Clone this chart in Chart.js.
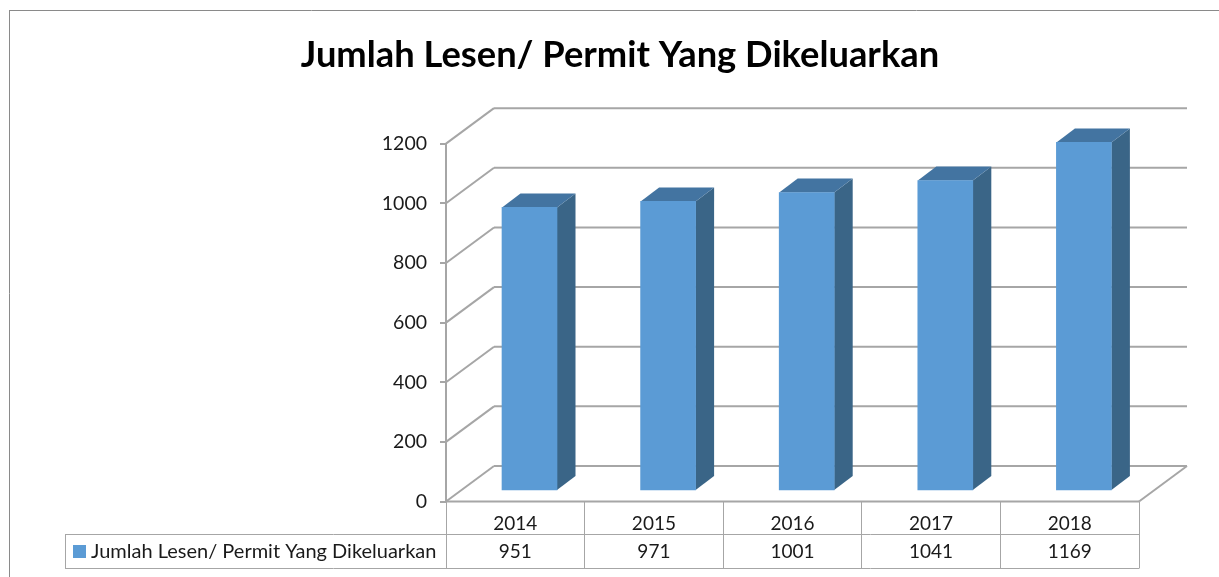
<!DOCTYPE html>
<html><head><meta charset="utf-8">
<style>html,body{margin:0;padding:0;background:#fff;overflow:hidden}canvas{display:block}</style>
<script src="https://cdn.jsdelivr.net/npm/chart.js@4"></script>
</head><body>
<canvas id="c" width="1219" height="577"></canvas>
<script>
const chartTitle = 'Jumlah Lesen/ Permit Yang Dikeluarkan';
const seriesName = 'Jumlah Lesen/ Permit Yang Dikeluarkan';
const categories = ['2014','2015','2016','2017','2018'];
const permitValues = [951,971,1001,1041,1169];

const FONT = 'Lato, "Open Sans", sans-serif';
const GRID = '#a6a6a6', TABLE = '#a6a6a6', TEXT = '#1a1a1a';
const WALL = {dx:48, dy:-35.5};
const BAR_SHIFT = {dx:14.2, dy:-10.5};
const BAR_DEPTH = {dx:18.5, dy:-14};
const TABLE_LEFT = 65, ROW1 = 534.5, ROW2 = 568.5;

function line(ctx,x1,y1,x2,y2,color,w){
  ctx.beginPath();ctx.moveTo(x1,y1);ctx.lineTo(x2,y2);
  ctx.strokeStyle=color;ctx.lineWidth=w;ctx.stroke();
}
function poly(ctx,pts,color){
  ctx.beginPath();pts.forEach((p,i)=>i?ctx.lineTo(p[0],p[1]):ctx.moveTo(p[0],p[1]));
  ctx.closePath();ctx.fillStyle=color;ctx.fill();
}
const frame3d = {
  id:'frame3d',
  beforeDatasetsDraw(chart){
    const {ctx,chartArea:a,scales:{y}} = chart;
    ctx.save();
    // outer frame
    line(ctx,9.5,10,9.5,577,'#8a8a8a',1);
    line(ctx,9,10.5,1219,10.5,'#8a8a8a',1);
    // back wall grid and the side-wall diagonals
    y.ticks.forEach(t=>{
      const py=y.getPixelForValue(t.value);
      line(ctx,a.left+WALL.dx,py+WALL.dy,a.right+WALL.dx,py+WALL.dy,GRID,2);
      line(ctx,a.left,py,a.left+WALL.dx,py+WALL.dy,GRID,2);
    });
    const p0=y.getPixelForValue(0);
    line(ctx,a.right,p0,a.right+WALL.dx,p0+WALL.dy,GRID,2);
    ctx.restore();
  },
  beforeDatasetDraw(chart){
    const ctx=chart.ctx;
    ctx.save();
    chart.getDatasetMeta(0).data.forEach(b=>{
      const p=b.getProps(['x','y','base','width'],true);
      const r=p.x+p.width/2+BAR_SHIFT.dx, l=p.x-p.width/2+BAR_SHIFT.dx;
      const t=p.y+BAR_SHIFT.dy, m=p.base+BAR_SHIFT.dy;
      const dx=BAR_DEPTH.dx, dy=BAR_DEPTH.dy;
      poly(ctx,[[r,t],[r+dx,t+dy],[r+dx,m+dy],[r,m]],'#3a6587');
      poly(ctx,[[l,t],[l+dx,t+dy],[r+dx,t+dy],[r,t]],'#4374a1');
    });
    ctx.restore();
    ctx.save();
    ctx.translate(BAR_SHIFT.dx,BAR_SHIFT.dy);
  },
  afterDatasetDraw(chart){ chart.ctx.restore(); },
  afterDraw(chart){
    const {ctx,chartArea:a,scales:{x}} = chart;
    ctx.save();
    const p0=a.bottom, step=(a.right-a.left)/categories.length;
    line(ctx,a.left,p0,a.right,p0,GRID,2);
    for(let i=0;i<=categories.length;i++){
      const lx=Math.floor(a.left+i*step)+0.5;
      line(ctx,lx,p0,lx,ROW2,TABLE,1);
    }
    line(ctx,TABLE_LEFT,ROW1,a.right,ROW1,TABLE,1);
    line(ctx,TABLE_LEFT,ROW2,a.right,ROW2,TABLE,1);
    line(ctx,TABLE_LEFT+0.5,ROW1,TABLE_LEFT+0.5,ROW2,TABLE,1);
    ctx.fillStyle=TEXT;ctx.font='19px '+FONT;ctx.textBaseline='middle';ctx.textAlign='center';
    permitValues.forEach((v,i)=>ctx.fillText(String(v),x.getPixelForValue(i),551.5));
    ctx.fillStyle='#5b9bd5';ctx.fillRect(73,545,13,13);
    ctx.fillStyle=TEXT;ctx.textAlign='left';ctx.font='20px '+FONT;
    ctx.fillText(seriesName,91,551.5);
    ctx.restore();
  }
};
new Chart(document.getElementById('c'),{
  type:'bar',
  data:{labels:categories,datasets:[{label:seriesName,data:permitValues,backgroundColor:'#5b9bd5',borderWidth:0,barThickness:55}]},
  plugins:[frame3d],
  options:{
    responsive:false,animation:false,
    layout:{padding:{left:101,right:80,top:0,bottom:0}},
    plugins:{
      legend:{display:false},tooltip:{enabled:false},
      title:{display:true,text:chartTitle,color:'#000',align:'center',
        font:{family:FONT,size:36.3,weight:'bold',lineHeight:1.2},
        padding:{top:33.5,bottom:66.6}}
    },
    scales:{
      x:{grid:{display:false},border:{display:false},
        ticks:{color:TEXT,font:{family:FONT,size:19},padding:3,maxRotation:0},
        afterFit(s){s.height=75.5;}},
      y:{min:0,max:1200,
        afterFit(s){s.width=345;},
        grid:{drawOnChartArea:false,drawTicks:true,tickLength:6,color:GRID,lineWidth:2},
        border:{display:true,color:GRID,width:2},
        ticks:{stepSize:200,color:TEXT,font:{family:FONT,size:19.5},padding:13,callback:v=>String(v)}}
    }
  }
});
</script>
</body></html>
